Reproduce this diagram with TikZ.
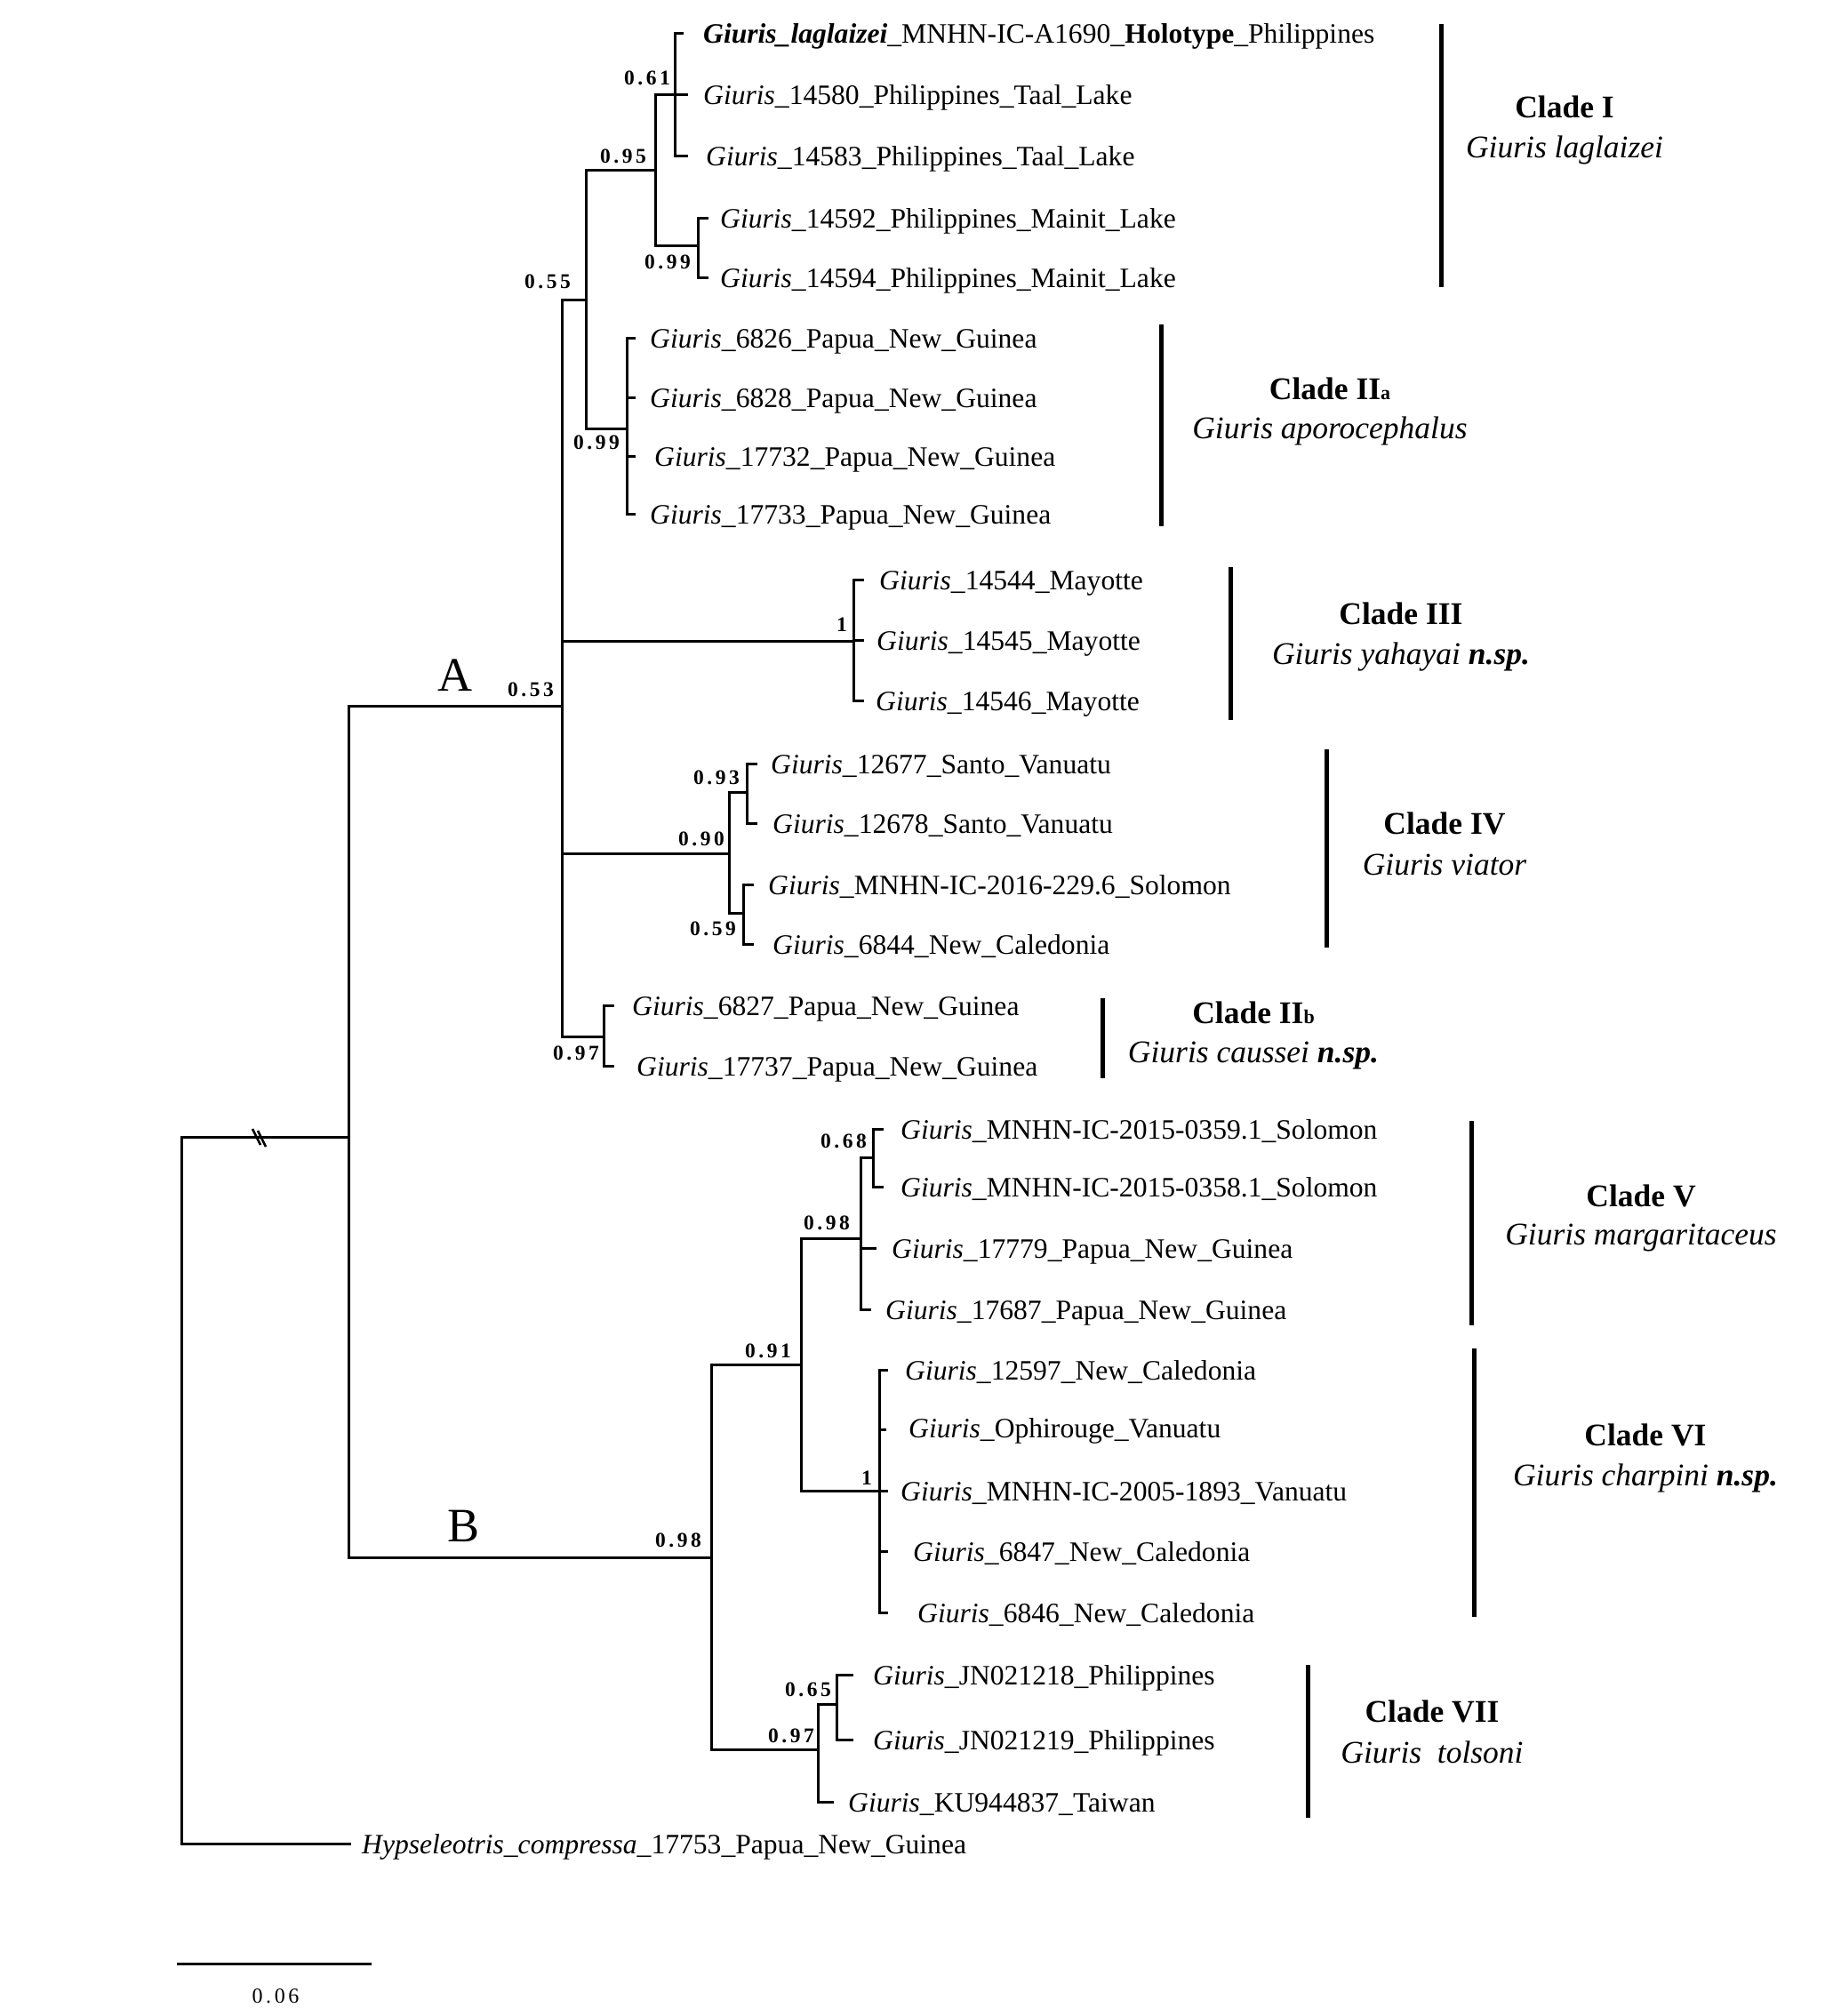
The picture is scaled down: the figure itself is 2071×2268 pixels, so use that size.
\documentclass[tikz,border=0pt]{standalone}
\usepackage{fontspec}
\setmainfont{Liberation Serif}
\newfontfamily\supfont[LetterSpace=15]{Liberation Serif}
\begin{document}
\begin{tikzpicture}[x=1pt,y=-1pt,
  br/.style={line width=3pt, line cap=rect},
  cbar/.style={line width=5pt},
  tiplab/.style={font=\fontsize{31.6}{36}\selectfont, anchor=base west, inner sep=0pt},
  sup/.style={font=\supfont\bfseries\fontsize{23.5}{27}\selectfont, inner sep=0pt},
  scalelab/.style={font=\supfont\fontsize{24}{27}\selectfont, inner sep=0pt},
  clade/.style={font=\fontsize{35.5}{40}\selectfont, anchor=base, inner sep=0pt},
  biglab/.style={font=\fontsize{54}{60}\selectfont, inner sep=0pt}]
\useasboundingbox (0,0) rectangle (2071,2268);
\fill[white] (0,0) rectangle (2071,2268);

% ---------- internal nodes ----------
\coordinate (root) at (204,1279);
\coordinate (nAB) at (392,1279);
\coordinate (nA) at (632,794);
\coordinate (nB) at (800,1752);
\coordinate (n055) at (659,337);
\coordinate (nI) at (737,191);
\coordinate (n061) at (759,106);
\coordinate (n099m) at (785,276);
\coordinate (nIIa) at (705,482);
\coordinate (nIII) at (960,721);
\coordinate (nIV) at (820,960);
\coordinate (n093) at (840,891);
\coordinate (n059) at (836,1027);
\coordinate (nIIb) at (679,1166);
\coordinate (n091) at (901,1535);
\coordinate (nV) at (968,1393);
\coordinate (n068) at (982,1302);
\coordinate (nVI) at (989,1677);
\coordinate (nVII) at (920,1968);
\coordinate (n065) at (941,1917);

% ---------- tip stub ends ----------
\coordinate (s1) at (767,37);
\coordinate (s2) at (772,106);
\coordinate (s3) at (772,175);
\coordinate (s4) at (795,245);
\coordinate (s5) at (795,312);
\coordinate (s6) at (713,380);
\coordinate (s7) at (713,447);
\coordinate (s8) at (713,513);
\coordinate (s9) at (713,578);
\coordinate (s10) at (970,652);
\coordinate (s11) at (970,720);
\coordinate (s12) at (970,788);
\coordinate (s13) at (850,859);
\coordinate (s14) at (850,926);
\coordinate (s15) at (846,995);
\coordinate (s16) at (846,1062);
\coordinate (s17) at (689,1131);
\coordinate (s18) at (689,1199);
\coordinate (s19) at (992,1270);
\coordinate (s20) at (992,1335);
\coordinate (s21) at (984,1404);
\coordinate (s22) at (978,1473);
\coordinate (s23) at (997,1541);
\coordinate (s24) at (995,1608);
\coordinate (s25) at (997,1677);
\coordinate (s26) at (997,1745);
\coordinate (s27) at (997,1814);
\coordinate (s28) at (958,1884);
\coordinate (s29) at (958,1957);
\coordinate (s30) at (936,2027);
\coordinate (s31) at (393,2074);

% ---------- branches ----------
\draw[br] (root) |- (nAB);
\draw[br] (root) |- (s31);
\draw[br] (nAB) |- (nA);
\draw[br] (nAB) |- (nB);
\draw[br] (nA) |- (n055);
\draw[br] (nA) |- (nIII);
\draw[br] (nA) |- (nIV);
\draw[br] (nA) |- (nIIb);
\draw[br] (n055) |- (nI);
\draw[br] (n055) |- (nIIa);
\draw[br] (nI) |- (n061);
\draw[br] (nI) |- (n099m);
\foreach \s in {s1,s2,s3} \draw[br] (n061) |- (\s);
\foreach \s in {s4,s5} \draw[br] (n099m) |- (\s);
\foreach \s in {s6,s7,s8,s9} \draw[br] (nIIa) |- (\s);
\foreach \s in {s10,s11,s12} \draw[br] (nIII) |- (\s);
\draw[br] (nIV) |- (n093);
\draw[br] (nIV) |- (n059);
\foreach \s in {s13,s14} \draw[br] (n093) |- (\s);
\foreach \s in {s15,s16} \draw[br] (n059) |- (\s);
\foreach \s in {s17,s18} \draw[br] (nIIb) |- (\s);
\draw[br] (nB) |- (n091);
\draw[br] (nB) |- (nVII);
\draw[br] (n091) |- (nV);
\draw[br] (n091) |- (nVI);
\draw[br] (nV) |- (n068);
\foreach \s in {s21,s22} \draw[br] (nV) |- (\s);
\foreach \s in {s19,s20} \draw[br] (n068) |- (\s);
\foreach \s in {s23,s24,s25,s26,s27} \draw[br] (nVI) |- (\s);
\draw[br] (nVII) |- (n065);
\draw[br] (nVII) |- (s30);
\foreach \s in {s28,s29} \draw[br] (n065) |- (\s);

% break mark on root branch
\draw[line width=2.5pt] (284,1270) -- (293,1288);
\draw[line width=2.5pt] (290,1272) -- (299,1290);

% ---------- tip labels ----------
\node[tiplab] (t1) at (791,48) {\textbf{\textit{Giuris\_laglaizei}}\_MNHN-IC-A1690\_\textbf{Holotype}\_Philippines};
\node[tiplab] (t2) at (791,117) {\textit{Giuris}\_14580\_Philippines\_Taal\_Lake};
\node[tiplab] (t3) at (794,186) {\textit{Giuris}\_14583\_Philippines\_Taal\_Lake};
\node[tiplab] (t4) at (810,256) {\textit{Giuris}\_14592\_Philippines\_Mainit\_Lake};
\node[tiplab] (t5) at (810,323) {\textit{Giuris}\_14594\_Philippines\_Mainit\_Lake};
\node[tiplab] (t6) at (731,391) {\textit{Giuris}\_6826\_Papua\_New\_Guinea};
\node[tiplab] (t7) at (731,458) {\textit{Giuris}\_6828\_Papua\_New\_Guinea};
\node[tiplab] (t8) at (736,524) {\textit{Giuris}\_17732\_Papua\_New\_Guinea};
\node[tiplab] (t9) at (731,589) {\textit{Giuris}\_17733\_Papua\_New\_Guinea};
\node[tiplab] (t10) at (989,663) {\textit{Giuris}\_14544\_Mayotte};
\node[tiplab] (t11) at (986,731) {\textit{Giuris}\_14545\_Mayotte};
\node[tiplab] (t12) at (985,799) {\textit{Giuris}\_14546\_Mayotte};
\node[tiplab] (t13) at (867,870) {\textit{Giuris}\_12677\_Santo\_Vanuatu};
\node[tiplab] (t14) at (869,937) {\textit{Giuris}\_12678\_Santo\_Vanuatu};
\node[tiplab] (t15) at (864,1006) {\textit{Giuris}\_MNHN-IC-2016-229.6\_Solomon};
\node[tiplab] (t16) at (869,1073) {\textit{Giuris}\_6844\_New\_Caledonia};
\node[tiplab] (t17) at (711,1142) {\textit{Giuris}\_6827\_Papua\_New\_Guinea};
\node[tiplab] (t18) at (716,1210) {\textit{Giuris}\_17737\_Papua\_New\_Guinea};
\node[tiplab] (t19) at (1013,1281) {\textit{Giuris}\_MNHN-IC-2015-0359.1\_Solomon};
\node[tiplab] (t20) at (1013,1346) {\textit{Giuris}\_MNHN-IC-2015-0358.1\_Solomon};
\node[tiplab] (t21) at (1003,1415) {\textit{Giuris}\_17779\_Papua\_New\_Guinea};
\node[tiplab] (t22) at (996,1484) {\textit{Giuris}\_17687\_Papua\_New\_Guinea};
\node[tiplab] (t23) at (1018,1552) {\textit{Giuris}\_12597\_New\_Caledonia};
\node[tiplab] (t24) at (1022,1617) {\textit{Giuris}\_Ophirouge\_Vanuatu};
\node[tiplab] (t25) at (1013,1688) {\textit{Giuris}\_MNHN-IC-2005-1893\_Vanuatu};
\node[tiplab] (t26) at (1027,1756) {\textit{Giuris}\_6847\_New\_Caledonia};
\node[tiplab] (t27) at (1032,1825) {\textit{Giuris}\_6846\_New\_Caledonia};
\node[tiplab] (t28) at (982,1895) {\textit{Giuris}\_JN021218\_Philippines};
\node[tiplab] (t29) at (982,1968) {\textit{Giuris}\_JN021219\_Philippines};
\node[tiplab] (t30) at (954,2038) {\textit{Giuris}\_KU944837\_Taiwan};
\node[tiplab] (t31) at (407,2085) {\textit{Hypseleotris\_compressa}\_17753\_Papua\_New\_Guinea};

% ---------- support values ----------
\node[sup] (b061) at (728,88) {0.61};
\node[sup] (b095) at (701,176) {0.95};
\node[sup] (b099m) at (751,295) {0.99};
\node[sup] (b055) at (616,317) {0.55};
\node[sup] (b099a) at (671,498) {0.99};
\node[sup] (b1III) at (947,703) {1};
\node[sup] (b053) at (597,776) {0.53};
\node[sup] (b093) at (806,875) {0.93};
\node[sup] (b090) at (789,944) {0.90};
\node[sup] (b059) at (802,1045) {0.59};
\node[sup] (b097b) at (648,1185) {0.97};
\node[sup] (b068) at (949,1284) {0.68};
\node[sup] (b098v) at (930,1376) {0.98};
\node[sup] (b091) at (864,1520) {0.91};
\node[sup] (b1VI) at (975,1663) {1};
\node[sup] (b098b) at (763,1733) {0.98};
\node[sup] (b065) at (909,1901) {0.65};
\node[sup] (b097c) at (890,1953) {0.97};

% ---------- A / B ----------
\node[biglab] (labA) at (512,760) {A};
\node[biglab] (labB) at (522,1717) {B};

% ---------- clade bars and labels ----------
\draw[cbar] (1621,27) -- (1621,323);
\node[clade] (c1a) at (1760,132) {\textbf{Clade I}};
\node[clade] (c1b) at (1760,177) {\textit{Giuris laglaizei}};

\draw[cbar] (1306,365) -- (1306,592);
\node[clade] (c2a) at (1496,449) {\textbf{Clade II{\fontsize{22}{22}\selectfont a}}};
\node[clade] (c2b) at (1496,493) {\textit{Giuris aporocephalus}};

\draw[cbar] (1384,638) -- (1384,810);
\node[clade] (c3a) at (1576,702) {\textbf{Clade III}};
\node[clade] (c3b) at (1576,747) {\textit{Giuris yahayai \textbf{n.sp.}}};

\draw[cbar] (1492,843) -- (1492,1066);
\node[clade] (c4a) at (1625,938) {\textbf{Clade IV}};
\node[clade] (c4b) at (1625,984) {\textit{Giuris viator}};

\draw[cbar] (1240,1123) -- (1240,1213);
\node[clade] (c2ba) at (1410,1151) {\textbf{Clade II{\fontsize{22}{22}\selectfont b}}};
\node[clade] (c2bb) at (1410,1195) {\textit{Giuris caussei \textbf{n.sp.}}};

\draw[cbar] (1655,1261) -- (1655,1491);
\node[clade] (c5a) at (1846,1357) {\textbf{Clade V}};
\node[clade] (c5b) at (1846,1400) {\textit{Giuris margaritaceus}};

\draw[cbar] (1658,1517) -- (1658,1819);
\node[clade] (c6a) at (1851,1626) {\textbf{Clade VI}};
\node[clade] (c6b) at (1851,1671) {\textit{Giuris charpini \textbf{n.sp.}}};

\draw[cbar] (1471,1873) -- (1471,2045);
\node[clade] (c7a) at (1611,1937) {\textbf{Clade VII}};
\node[clade] (c7b) at (1611,1983) {\textit{Giuris~~tolsoni}};

% ---------- scale bar ----------
\coordinate (sb1) at (199,2209);
\coordinate (sb2) at (418,2209);
\draw[line width=3pt] (sb1) -- (sb2);
\node[scalelab] (sblab) at (310,2246) {0.06};
\end{tikzpicture}
\end{document}
